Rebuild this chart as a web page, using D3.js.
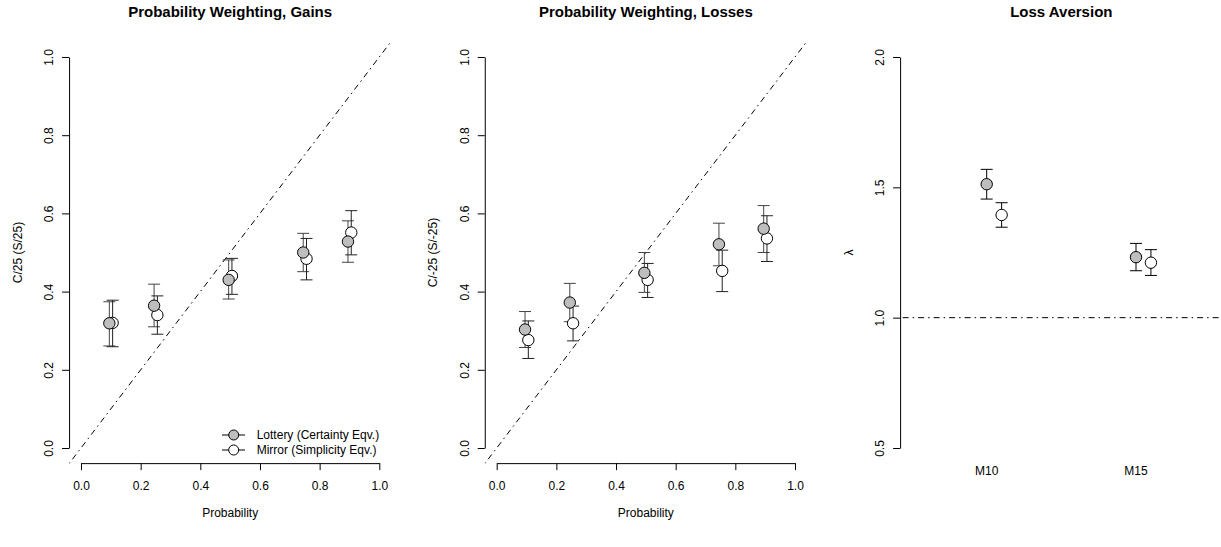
<!DOCTYPE html>
<html>
<head>
<meta charset="utf-8">
<script src="https://cdn.jsdelivr.net/npm/d3@7"></script>
<style>
	body { margin: 0; background: #fff; }
	svg { font-family: "Liberation Sans", Arial, sans-serif; }
	.axis path, .axis line { stroke: #000; }
	.axis text { font-size: 12px; fill: #000; }
</style>
</head>
<body>
<svg id="chart" width="1221" height="547"></svg>
<script>
const probs = [0.1, 0.25, 0.5, 0.75, 0.9];
const gainLot = [0.319, 0.364, 0.430, 0.500, 0.528];
const gainLotLo = [0.261, 0.310, 0.381, 0.451, 0.475];
const gainLotHi = [0.374, 0.419, 0.481, 0.549, 0.581];
const gainMir = [0.320, 0.340, 0.440, 0.484, 0.551];
const gainMirLo = [0.259, 0.291, 0.393, 0.430, 0.494];
const gainMirHi = [0.378, 0.389, 0.485, 0.536, 0.607];
const lossLot = [0.303, 0.372, 0.448, 0.521, 0.561];
const lossLotLo = [0.257, 0.323, 0.398, 0.466, 0.500];
const lossLotHi = [0.349, 0.421, 0.500, 0.575, 0.620];
const lossMir = [0.276, 0.319, 0.430, 0.453, 0.536];
const lossMirLo = [0.229, 0.274, 0.385, 0.400, 0.477];
const lossMirHi = [0.325, 0.363, 0.472, 0.506, 0.594];
const models = ["M10", "M15"];
const lamLot = [1.512, 1.232];
const lamLotLo = [1.455, 1.180];
const lamLotHi = [1.569, 1.285];
const lamMir = [1.394, 1.211];
const lamMirLo = [1.347, 1.162];
const lamMirHi = [1.441, 1.261];
const probTicks = [0, 0.2, 0.4, 0.6, 0.8, 1.0];
const lamTicks = [0.5, 1.0, 1.5, 2.0];
const legendLabels = ["Lottery (Certainty Eqv.)", "Mirror (Simplicity Eqv.)"];

const svg = d3.select("#chart");
const yTop = 57, yBot = 448;
const dash = "1.5,4,6,4";
const grey = "#bebebe";

// plot region = data range stretched 4% each side, like R does
function stretch(s, lo, hi) {
	const pad = (hi - lo) * 0.04;
	return [s(lo - pad), s(hi + pad)];
}

function clipFor(id, xs, ys, xlo, xhi, ylo, yhi) {
	const [x0, x1] = stretch(xs, xlo, xhi);
	const [y0, y1] = stretch(ys, ylo, yhi);
	svg.append("clipPath").attr("id", id).append("rect")
		.attr("x", x0).attr("y", y1).attr("width", x1 - x0).attr("height", y0 - y1);
}

function yAxis(ys, x, ticks, label) {
	const g = svg.append("g").attr("class", "axis")
		.attr("transform", `translate(${x},0)`)
		.call(d3.axisLeft(ys).tickValues(ticks).tickSize(7).tickSizeOuter(0).tickFormat(d3.format(".1f")));
	g.selectAll(".tick text")
		.attr("x", null).attr("dy", null)
		.attr("text-anchor", "middle")
		.attr("transform", "translate(-16,0) rotate(-90)");
	svg.append("text")
		.attr("transform", `translate(${x - 47.5},${(yTop + yBot) / 2}) rotate(-90)`)
		.attr("text-anchor", "middle").attr("font-size", 12)
		.text(label);
}

function xAxis(xs, y) {
	const g = svg.append("g").attr("class", "axis")
		.attr("transform", `translate(0,${y})`)
		.call(d3.axisBottom(xs).tickValues(probTicks).tickSize(7).tickSizeOuter(0).tickFormat(d3.format(".1f")));
	g.selectAll(".tick text").attr("y", 27).attr("dy", null);
	const [a, b] = xs.range();
	svg.append("text")
		.attr("x", (a + b) / 2).attr("y", 517)
		.attr("text-anchor", "middle").attr("font-size", 12)
		.text("Probability");
}

function title(txt, cx) {
	svg.append("text")
		.attr("x", cx).attr("y", 17)
		.attr("text-anchor", "middle").attr("font-size", 15).attr("font-weight", "bold")
		.text(txt);
}

function errBars(xv, lo, hi, xs, ys, col) {
	const g = svg.append("g").attr("stroke", col).attr("stroke-width", 1);
	xv.forEach((x, i) => {
		const px = xs(x);
		g.append("line").attr("x1", px).attr("x2", px).attr("y1", ys(lo[i])).attr("y2", ys(hi[i]));
		g.append("line").attr("x1", px - 6).attr("x2", px + 6).attr("y1", ys(lo[i])).attr("y2", ys(lo[i]));
		g.append("line").attr("x1", px - 6).attr("x2", px + 6).attr("y1", ys(hi[i])).attr("y2", ys(hi[i]));
	});
}

function dots(xv, yv, xs, ys, fill) {
	svg.append("g").selectAll("circle")
		.data(yv)
		.join("circle")
		.attr("cx", (d, i) => xs(xv[i]))
		.attr("cy", d => ys(d))
		.attr("r", 5.7)
		.attr("fill", fill)
		.attr("stroke", "#000")
		.attr("stroke-width", 1);
}

function probPanel(id, x0, x1, lot, lotLo, lotHi, mir, mirLo, mirHi, ttl, ylab) {
	const xs = d3.scaleLinear().domain([0, 1]).range([x0, x1]);
	const ys = d3.scaleLinear().domain([0, 1]).range([yBot, yTop]);
	const [left] = stretch(xs, 0, 1);
	const [bottom] = stretch(ys, 0, 1);
	clipFor(id, xs, ys, 0, 1, 0, 1);

	// identity line y = x
	svg.append("line")
		.attr("clip-path", `url(#${id})`)
		.attr("x1", xs(-0.04)).attr("y1", ys(-0.04))
		.attr("x2", xs(1.04)).attr("y2", ys(1.04))
		.attr("stroke", "#000").attr("stroke-dasharray", dash);

	const xl = probs.map(p => p - 0.005);
	const xm = probs.map(p => p + 0.006);
	errBars(xl, lotLo, lotHi, xs, ys, "#444");
	errBars(xm, mirLo, mirHi, xs, ys, "#222");
	dots(xm, mir, xs, ys, "#fff");
	dots(xl, lot, xs, ys, grey);

	yAxis(ys, left, probTicks, ylab);
	xAxis(xs, bottom - 0.5);
	title(ttl, (stretch(xs, 0, 1)[0] + stretch(xs, 0, 1)[1]) / 2);
	return { xs: xs, ys: ys };
}

const p1 = probPanel("clipGains", 81, 379.3, gainLot, gainLotLo, gainLotHi, gainMir, gainMirLo, gainMirHi,
	"Probability Weighting, Gains", "C/25 (S/25)");
probPanel("clipLosses", 496.7, 795, lossLot, lossLotLo, lossLotHi, lossMir, lossMirLo, lossMirHi,
	"Probability Weighting, Losses", "C/-25 (S/-25)");

// legend sits in the gains panel, bottom right
const legend = svg.append("g").attr("transform", "translate(222,435)");
legendLabels.forEach((lab, i) => {
	const row = legend.append("g").attr("transform", `translate(0,${i * 15})`);
	row.append("line").attr("x1", 0).attr("x2", 23).attr("stroke", "#000");
	row.append("circle").attr("cx", 11.7).attr("r", 5)
		.attr("fill", i == 0 ? grey : "#fff").attr("stroke", "#000");
	row.append("text").attr("x", 34.7).attr("dy", "0.35em").attr("font-size", 12).text(lab);
});

// Loss aversion
const lx = d3.scaleLinear().domain([1, 2]).range([986.7, 1136]);
const ly = d3.scaleLinear().domain([0.5, 2]).range([yBot, yTop]);
clipFor("clipLam", lx, ly, 0.5, 2.5, 0.5, 2);
svg.append("line")
	.attr("clip-path", "url(#clipLam)")
	.attr("x1", lx(0.4)).attr("x2", lx(2.6))
	.attr("y1", ly(1)).attr("y2", ly(1))
	.attr("stroke", "#000").attr("stroke-dasharray", dash);

const mIdx = models.map((m, i) => i + 1);
const mIdxMir = mIdx.map(v => v + 0.1);
errBars(mIdx, lamLotLo, lamLotHi, lx, ly, "#000");
errBars(mIdxMir, lamMirLo, lamMirHi, lx, ly, "#000");
dots(mIdxMir, lamMir, lx, ly, "#fff");
dots(mIdx, lamLot, lx, ly, grey);

yAxis(ly, stretch(lx, 0.5, 2.5)[0], lamTicks, "λ");
svg.append("g").selectAll("text")
	.data(models)
	.join("text")
	.attr("x", (d, i) => lx(i + 1))
	.attr("y", 475)
	.attr("text-anchor", "middle").attr("font-size", 12)
	.text(d => d);
title("Loss Aversion", (stretch(lx, 0.5, 2.5)[0] + stretch(lx, 0.5, 2.5)[1]) / 2);
</script>
</body>
</html>
